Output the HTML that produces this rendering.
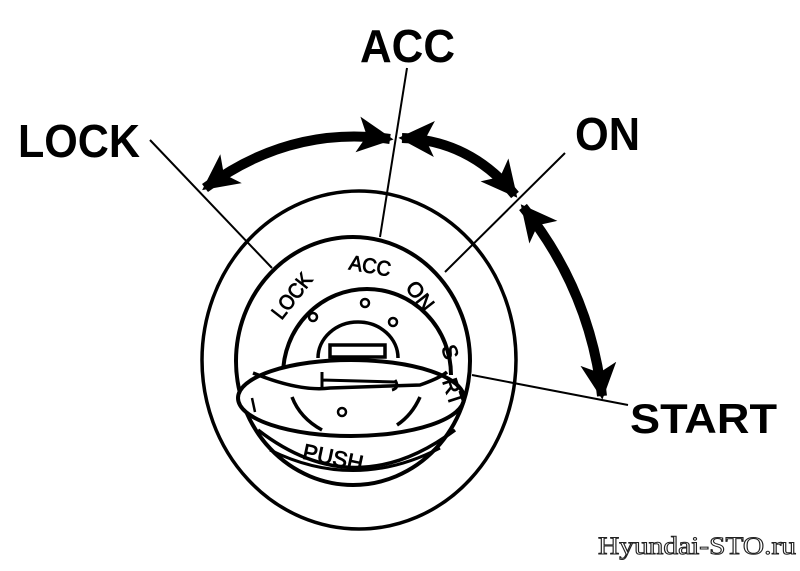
<!DOCTYPE html>
<html><head><meta charset="utf-8"><style>
html,body{margin:0;padding:0;background:#fff;}
svg{display:block}
</style></head><body>
<svg width="800" height="571" viewBox="0 0 800 571" xmlns="http://www.w3.org/2000/svg">
<defs>
<marker id="ah" viewBox="0 0 10 10" refX="9" refY="5" markerWidth="3.6" markerHeight="3.8" orient="auto-start-reverse" markerUnits="strokeWidth">
<path d="M0,0 L10,5 L0,10 L2.5,5 z" fill="#000"/>
</marker>
</defs>
<g font-family="'Liberation Sans', Arial, sans-serif" font-weight="bold" fill="#000">
<text x="18" y="157" font-size="46" textLength="122" lengthAdjust="spacingAndGlyphs">LOCK</text>
<text x="360" y="62" font-size="46" textLength="95" lengthAdjust="spacingAndGlyphs">ACC</text>
<text x="575" y="150" font-size="46" textLength="65" lengthAdjust="spacingAndGlyphs">ON</text>
<text x="630" y="433" font-size="42" textLength="147" lengthAdjust="spacingAndGlyphs">START</text>
</g>
<text x="598" y="554" font-family="'Liberation Serif', serif" font-size="25" fill="#fff" stroke="#222" stroke-width="1" textLength="198" lengthAdjust="spacingAndGlyphs">Hyundai-STO.ru</text>

<g fill="none" stroke="#000">
<line x1="150" y1="140" x2="272" y2="268" stroke-width="2"/>
<line x1="407" y1="68" x2="380" y2="237" stroke-width="2"/>
<line x1="565" y1="153" x2="445" y2="272" stroke-width="2"/>
<line x1="472" y1="375" x2="628" y2="405" stroke-width="2"/>
<path d="M205,188 Q290,125 390,139" stroke-width="10" marker-start="url(#ah)" marker-end="url(#ah)"/>
<path d="M402,138 Q470,140 515,195" stroke-width="10" marker-start="url(#ah)" marker-end="url(#ah)"/>
<path d="M523,207 Q590,290 602,396" stroke-width="10" marker-start="url(#ah)" marker-end="url(#ah)"/>
<ellipse cx="359" cy="360" rx="157" ry="169" stroke-width="3.5"/>
<ellipse cx="353" cy="361" rx="117" ry="124" stroke-width="4"/>
<path d="M283,375 A84,86 0 1 1 451,375" stroke-width="4"/>
<path d="M318,358 A40,36 0 0 1 398,358" stroke-width="3.5"/>
<rect x="330" y="345" width="55" height="12" stroke-width="3.5" fill="#fff"/>
<circle cx="365" cy="303" r="4" stroke-width="2.5"/>
<circle cx="313" cy="317" r="4" stroke-width="2.5"/>
<circle cx="393" cy="322" r="4" stroke-width="2.5"/>
<path d="M258,430 Q355,505 455,430" stroke-width="3.5"/>
<path d="M270,450 Q355,492 440,448" stroke-width="3"/>
<ellipse cx="351" cy="398" rx="113" ry="38" stroke-width="4" fill="#fff"/>
<path d="M253,373 Q300,392 330,388 L420,385 Q440,378 447,372" stroke-width="3.5"/>
<path d="M322,380 L395,382 M322,372 L322,388 M395,380 Q400,388 392,390" stroke-width="3"/>
<path d="M292,397 Q300,418 322,430" stroke-width="3.5"/>
<path d="M420,397 Q412,415 397,425" stroke-width="3.5"/>
<path d="M252,398 L255,412" stroke-width="2.5"/>
<circle cx="342" cy="412" r="4" stroke-width="2.5"/>
</g>

<g font-family="'Liberation Sans', Arial, sans-serif" font-size="21" fill="#000" stroke="#000" stroke-width="0.8" text-anchor="middle">
<text transform="translate(292,296) rotate(-52)" dy="7" textLength="52" lengthAdjust="spacingAndGlyphs">LOCK</text>
<text transform="translate(370,266) rotate(10)" dy="7" textLength="42" lengthAdjust="spacingAndGlyphs">ACC</text>
<text transform="translate(420,296) rotate(52)" dy="7">ON</text>
<text transform="translate(450,352) rotate(72)" dy="7">S</text>
<text transform="translate(453,392) rotate(72)" dy="7">RT</text>
<text transform="translate(333,458) rotate(12)" dy="7" font-size="22">PUSH</text>
</g>
</svg>
</body></html>
